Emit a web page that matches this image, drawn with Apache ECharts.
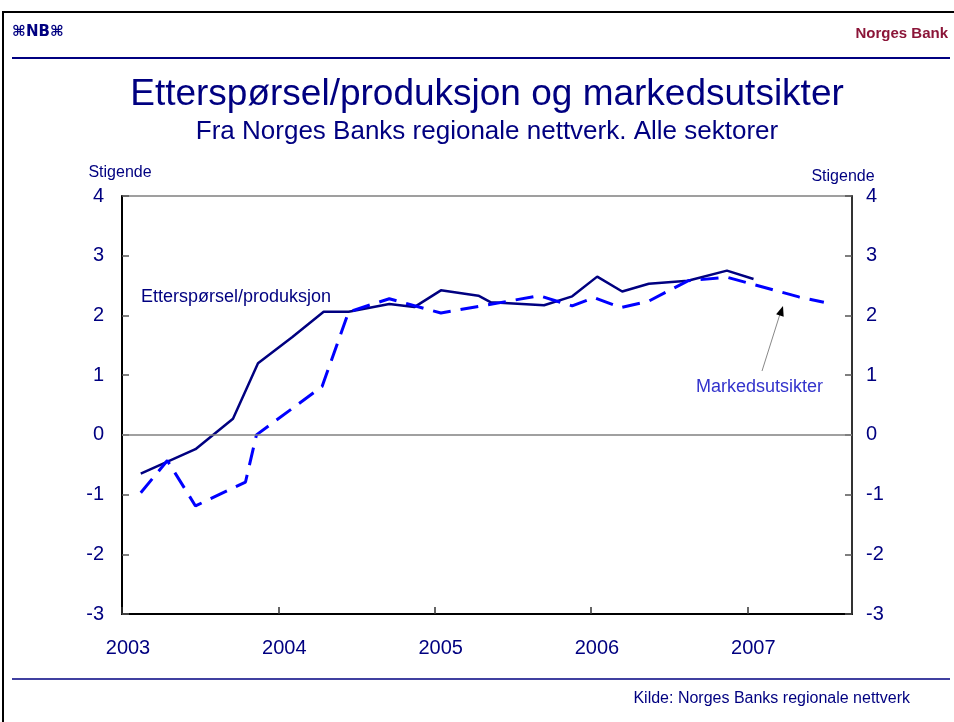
<!DOCTYPE html>
<html><head><meta charset="utf-8">
<script src="https://cdn.jsdelivr.net/npm/echarts@6/dist/echarts.min.js"></script>
<style>html,body{margin:0;padding:0;background:#fff}#c{width:954px;height:722px}</style>
</head><body><div id="c"></div>
<script>
// Data (x in decimal years)
const yearTicks = [2003, 2004, 2005, 2006, 2007];
const yTicks = [-3, -2, -1, 0, 1, 2, 3, 4];
const demandTimes  = [2003.12, 2003.47, 2003.71, 2003.87, 2004.09, 2004.29, 2004.45, 2004.71, 2004.87, 2005.04, 2005.28, 2005.36, 2005.70, 2005.88, 2006.04, 2006.20, 2006.37, 2006.62, 2006.87, 2007.04];
const demandValues = [-0.65, -0.24, 0.27, 1.20, 1.64, 2.06, 2.06, 2.19, 2.14, 2.42, 2.33, 2.22, 2.17, 2.32, 2.65, 2.40, 2.53, 2.58, 2.75, 2.61];
const outlookTimes  = [2003.12, 2003.29, 2003.47, 2003.79, 2003.86, 2004.28, 2004.45, 2004.71, 2005.04, 2005.67, 2005.88, 2006.02, 2006.19, 2006.37, 2006.62, 2006.87, 2007.33, 2007.49];
const outlookValues = [-0.97, -0.43, -1.19, -0.79, 0.00, 0.81, 2.06, 2.28, 2.04, 2.33, 2.16, 2.30, 2.13, 2.24, 2.58, 2.64, 2.31, 2.22];
const demandName = 'Etterspørsel/produksjon';
const outlookName = 'Markedsutsikter';
const titleText = 'Etterspørsel/produksjon og markedsutsikter';
const subtitleText = 'Fra Norges Banks regionale nettverk. Alle sektorer';
const sourceText = 'Kilde: Norges Banks regionale nettverk';
const axisName = 'Stigende';

const FONT = '"Liberation Sans", Arial, sans-serif';
const NAVY = '#000080';

const chart = echarts.init(document.getElementById('c'), null, {renderer: 'canvas'});
const pairs = (xs, ys) => xs.map((x, i) => [x, ys[i]]);

const yAxisCommon = {
  type: 'value', min: yTicks[0], max: yTicks[yTicks.length - 1], interval: 1,
  splitLine: {show: false},
  axisTick: {show: true, inside: true, length: 7, lineStyle: {color: '#555', width: 1.5}},
  axisLabel: {color: NAVY, fontSize: 20, fontFamily: FONT},
  name: axisName, nameLocation: 'end',
  nameTextStyle: {color: NAVY, fontSize: 16, fontFamily: FONT}
};

chart.setOption({
  animation: false,
  backgroundColor: '#fff',
  grid: {left: 122, right: 102, top: 196, bottom: 108, show: true,
         borderColor: '#808080', borderWidth: 1.5, backgroundColor: 'transparent'},
  xAxis: {
    type: 'value', min: 2003, max: 2007.67, interval: 1,
    splitLine: {show: false},
    axisLine: {onZero: false, lineStyle: {color: '#000', width: 2}},
    axisTick: {show: true, inside: true, length: 7, lineStyle: {color: '#333', width: 1.5}},
    axisLabel: {color: NAVY, fontSize: 20, fontFamily: FONT, margin: 24,
                padding: [0, 0, 0, 12],
                formatter: v => (yearTicks.indexOf(Math.round(v)) >= 0 && Math.abs(v - Math.round(v)) < 1e-6) ? String(Math.round(v)) : ''}
  },
  yAxis: [
    Object.assign({}, yAxisCommon, {
      position: 'left',
      axisLine: {show: true, lineStyle: {color: '#000', width: 2}},
      axisLabel: Object.assign({}, yAxisCommon.axisLabel, {margin: 18}),
      nameGap: 15,
      nameTextStyle: Object.assign({}, yAxisCommon.nameTextStyle, {padding: [0, 0, 0, -4]})
    }),
    Object.assign({}, yAxisCommon, {
      position: 'right',
      axisLine: {show: true, lineStyle: {color: '#333', width: 2}},
      axisLabel: Object.assign({}, yAxisCommon.axisLabel, {margin: 14}),
      nameGap: 11,
      nameTextStyle: Object.assign({}, yAxisCommon.nameTextStyle, {padding: [0, 18, 0, 0]})
    })
  ],
  series: [
    {
      name: demandName, type: 'line', data: pairs(demandTimes, demandValues),
      symbol: 'none', lineStyle: {color: NAVY, width: 2.5, type: 'solid'}, z: 3,
      markLine: {silent: true, symbol: 'none', label: {show: false},
                 lineStyle: {color: '#808080', width: 1.5, type: 'solid'},
                 data: [{yAxis: 0}]}
    },
    {
      name: outlookName, type: 'line', data: pairs(outlookTimes, outlookValues),
      symbol: 'none', lineStyle: {color: '#0000FF', width: 3, type: [18, 10]}, z: 4
    }
  ],
  graphic: [
    {type: 'rect', shape: {x: 3, y: 12, width: 960, height: 730}, style: {fill: 'none', stroke: '#000', lineWidth: 2}, silent: true},
    {type: 'text', left: 12, top: 25, style: {text: '⌘NB⌘', fill: NAVY, font: 'bold 15px "DejaVu Sans", sans-serif'}},
    {type: 'text', right: 6, top: 26, style: {text: 'Norges Bank', fill: '#8B1538', font: 'bold 15px ' + FONT}},
    {type: 'line', shape: {x1: 12, y1: 58, x2: 950, y2: 58}, style: {stroke: NAVY, lineWidth: 2}},
    {type: 'text', x: 487, y: 95, style: {text: titleText, fill: NAVY, font: '37px ' + FONT, textAlign: 'center', textVerticalAlign: 'middle'}},
    {type: 'text', x: 487, y: 132, style: {text: subtitleText, fill: NAVY, font: '26px ' + FONT, textAlign: 'center', textVerticalAlign: 'middle'}},
    {type: 'line', shape: {x1: 12, y1: 679, x2: 950, y2: 679}, style: {stroke: NAVY, lineWidth: 1.5}},
    {type: 'text', x: 910, y: 699, style: {text: sourceText, fill: NAVY, font: '16px ' + FONT, textAlign: 'right', textVerticalAlign: 'middle'}},
    {type: 'text', x: 141, y: 297, style: {text: demandName, fill: NAVY, font: '18px ' + FONT, textAlign: 'left', textVerticalAlign: 'middle'}},
    {type: 'text', x: 696, y: 387, style: {text: outlookName, fill: '#3333CC', font: '18px ' + FONT, textAlign: 'left', textVerticalAlign: 'middle'}},
    {type: 'line', shape: {x1: 762, y1: 371, x2: 780, y2: 314}, style: {stroke: '#888', lineWidth: 1}},
    {type: 'polygon', shape: {points: [[783, 306], [783.7, 316.7], [776.1, 314.3]]}, style: {fill: '#000'}}
  ]
});
</script>
</body></html>
